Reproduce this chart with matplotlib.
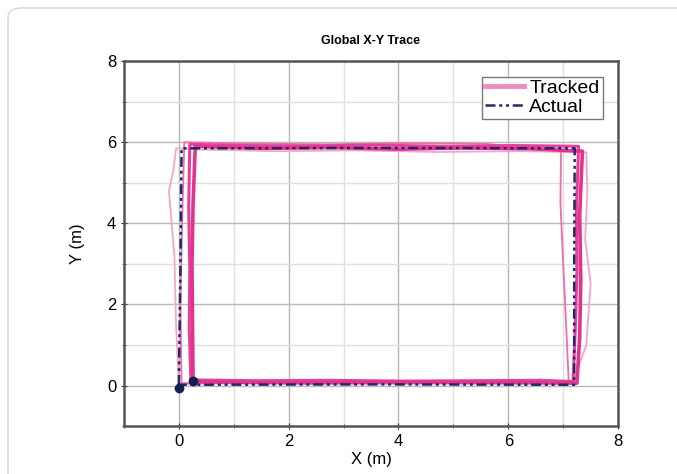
import matplotlib.pyplot as plt
from matplotlib.patches import FancyBboxPatch
from matplotlib.ticker import MultipleLocator

plt.rcParams['font.family'] = ['Liberation Sans', 'DejaVu Sans']

# reference path (commanded rectangle)
actual_x = [0.00, 0.02, 3.60, 7.20, 7.20, 7.21, 3.60, 0.05, 0.03, 0.00]
actual_y = [-0.05, 0.02, 0.03, 0.02, 2.90, 5.85, 5.86, 5.85, 2.90, -0.05]

# tracked laps around the rectangle
lap1_x = [0.25, 1.20, 2.50, 3.80, 5.00, 6.20, 7.25, 7.30, 7.32, 7.30, 7.35, 6.40, 5.20, 4.00, 2.80, 1.50, 0.30, 0.26, 0.24, 0.25, 0.26]
lap1_y = [0.10, 0.08, 0.07, 0.09, 0.08, 0.07, 0.06, 1.20, 2.60, 4.20, 5.78, 5.84, 5.86, 5.83, 5.87, 5.85, 5.90, 4.50, 3.00, 1.50, 0.12]
lap2_x = [0.22, 1.40, 2.70, 4.10, 5.40, 6.60, 7.18, 7.22, 7.25, 7.24, 7.28, 6.10, 4.90, 3.60, 2.30, 1.10, 0.20, 0.18, 0.20, 0.19, 0.22]
lap2_y = [0.14, 0.12, 0.13, 0.11, 0.12, 0.13, 0.10, 1.40, 2.80, 4.30, 5.90, 5.92, 5.90, 5.93, 5.91, 5.92, 5.95, 4.40, 2.90, 1.40, 0.14]
lap3_x = [0.00, 1.30, 2.90, 4.40, 5.80, 7.18, 7.42, 7.50, 7.40, 7.44, 7.42, 6.20, 4.70, 3.20, 1.80, 0.40, -0.05, -0.10, -0.18, -0.08, -0.05, 0.00]
lap3_y = [0.04, 0.05, 0.03, 0.04, 0.05, 0.08, 1.00, 2.50, 3.60, 4.80, 5.75, 5.78, 5.76, 5.80, 5.78, 5.82, 5.85, 5.30, 4.80, 3.20, 1.50, 0.04]
lap4_x = [0.05, 1.60, 3.10, 4.60, 6.10, 7.10, 7.05, 7.00, 6.95, 6.96, 5.60, 4.20, 2.70, 1.20, 0.10, 0.06, 0.03, 0.05]
lap4_y = [0.06, 0.07, 0.06, 0.08, 0.07, 0.10, 1.60, 3.00, 4.50, 5.80, 5.96, 5.98, 5.95, 5.97, 6.00, 4.00, 2.00, 0.06]

start_x = [0.00, 0.25]
start_y = [-0.05, 0.12]

fig = plt.figure(figsize=(6.77, 4.74), dpi=100)

# light rounded frame round the figure
frame = FancyBboxPatch((8 / 677, -0.1), 1.1, 1.1 - 8 / 474,
                       boxstyle='round,pad=0,rounding_size=0.02',
                       transform=fig.transFigure, facecolor='none',
                       edgecolor='#d5d5d5', linewidth=1.0, clip_on=False)
fig.patches.append(frame)

ax = fig.add_axes([0.183, 0.101, 0.730, 0.770])

ax.plot(lap3_x, lap3_y, color='#f3a6cb', lw=1.3)
ax.plot(lap4_x, lap4_y, color='#ee6fa8', lw=1.3)
ax.plot(lap2_x, lap2_y, color='#e8409a', lw=2.2)
ax.plot(lap1_x, lap1_y, color='#e2338d', lw=2.6, label='Tracked')
ax.plot(actual_x, actual_y, color='#1f2a6a', lw=1.8, ls=(0, (4, 1.5, 1.2, 1.5, 1.2, 1.5)),
        label='Actual')
ax.plot(start_x, start_y, 'o', color='#14204f', ms=6)

ax.set_xlim(-1, 8)
ax.set_ylim(-1, 8)
ax.xaxis.set_major_locator(MultipleLocator(2))
ax.yaxis.set_major_locator(MultipleLocator(2))
ax.xaxis.set_minor_locator(MultipleLocator(1))
ax.yaxis.set_minor_locator(MultipleLocator(1))
ax.grid(which='major', color='#b8b8b8', lw=1.0)
ax.grid(which='minor', color='#e0e0e0', lw=1.0)
ax.set_axisbelow(True)

for s in ax.spines.values():
    s.set_color('#555555')
    s.set_linewidth(1.8)
ax.tick_params(which='both', direction='inout', color='#333333', labelsize=12)
ax.tick_params(which='major', length=4)
ax.tick_params(which='minor', length=3)

ax.set_title('Global X-Y Trace', fontsize=9, fontweight='bold', pad=12)
ax.set_xlabel('X (m)', fontsize=12, labelpad=2)
ax.set_ylabel('Y (m)', fontsize=12, labelpad=16)

leg = ax.legend(loc='upper right', fontsize=14, frameon=True, fancybox=False,
                edgecolor='#777777', framealpha=1, borderpad=0.15,
                labelspacing=0.05, handlelength=2.0, handletextpad=0.3,
                borderaxespad=0.8)
leg.get_lines()[0].set_color('#f08cbf')
leg.get_lines()[0].set_linewidth(3.5)

fig.savefig('out.png', dpi=100)
